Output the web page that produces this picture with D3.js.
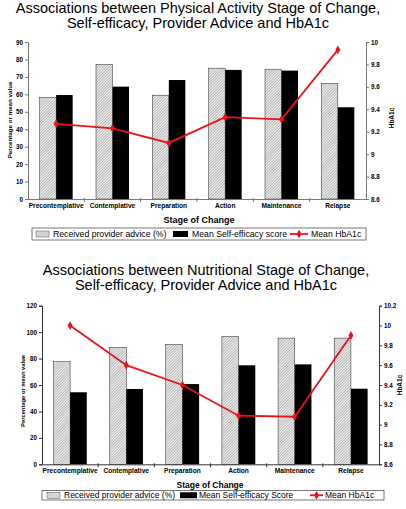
<!DOCTYPE html>
<html><head><meta charset="utf-8">
<script src="https://cdn.jsdelivr.net/npm/d3@7"></script>
<style>body{margin:0;background:#fff}svg{display:block;font-family:"Liberation Sans",Arial,sans-serif}</style>
</head><body>
<svg id="c" width="406" height="509"></svg>
<script>
const stages = ["Precontemplative","Contemplative","Preparation","Action","Maintenance","Relapse"];
// Chart 1: Physical activity
const pa_advice = [58.3, 77.2, 59.5, 75.0, 74.4, 66.3];
const pa_selfEff = [59.6, 64.4, 68.2, 74.0, 73.6, 52.6];
const pa_hba1c = [9.27, 9.23, 9.10, 9.33, 9.31, 9.93];
const pa_leftTicks = [0,10,20,30,40,50,60,70,80,90];
const pa_rightTicks = [8.6,8.8,9,9.2,9.4,9.6,9.8,10];
// Chart 2: Nutrition
const nu_advice = [77.6, 88.5, 90.8, 96.8, 95.5, 95.5];
const nu_selfEff = [54.5, 57.0, 60.7, 74.9, 75.6, 57.2];
const nu_hba1c = [10.0, 9.6, 9.4, 9.09, 9.08, 9.9];
const nu_leftTicks = [0,20,40,60,80,100,120];
const nu_rightTicks = [8.6,8.8,9,9.2,9.4,9.6,9.8,10,10.2];

const svg = d3.select("#c");
const defs = svg.append("defs");
const pat = defs.append("pattern").attr("id","hatch").attr("patternUnits","userSpaceOnUse")
  .attr("width",2).attr("height",2).attr("patternTransform","rotate(45)");
pat.append("rect").attr("width",2).attr("height",2).attr("fill","#f2f2f2");
pat.append("line").attr("x1",0).attr("y1",0).attr("x2",0).attr("y2",2).attr("stroke","#7a7a7a").attr("stroke-width",1);

function drawChart(cfg){
  const g = svg.append("g");
  cfg.title.forEach((t,i)=>{
    g.append("text").attr("x",cfg.titleX).attr("y",cfg.titleY+i*15).attr("text-anchor","middle")
      .attr("font-size",14.5).attr("fill","#000").text(t);
  });
  const x = d3.scaleBand().domain(stages).range([cfg.left,cfg.right]);
  const yL = d3.scaleLinear().domain(cfg.leftDomain).range([cfg.bottom,cfg.top]);
  const yR = d3.scaleLinear().domain(cfg.rightDomain).range([cfg.bottom,cfg.top]);
  const bw = cfg.barW;
  g.selectAll(".adv").data(cfg.advice).join("rect")
    .attr("x",(d,i)=>x(stages[i])+x.bandwidth()/2-bw)
    .attr("y",d=>yL(d)).attr("width",bw).attr("height",d=>yL(0)-yL(d))
    .attr("fill","url(#hatch)").attr("stroke","#222").attr("stroke-width",0.5);
  g.selectAll(".se").data(cfg.selfEff).join("rect")
    .attr("x",(d,i)=>x(stages[i])+x.bandwidth()/2)
    .attr("y",d=>yL(d)).attr("width",bw).attr("height",d=>yL(0)-yL(d))
    .attr("fill","#000");
  const axL = d3.axisLeft(yL).tickValues(cfg.leftTicks).tickSize(cfg.tickIn).tickPadding(2).tickFormat(d3.format("d"));
  const gl = g.append("g").attr("transform",`translate(${cfg.left},0)`).call(axL);
  const axR = d3.axisRight(yR).tickValues(cfg.rightTicks).tickSize(3).tickPadding(2).tickFormat(d=>String(+d.toFixed(1)));
  const gr = g.append("g").attr("transform",`translate(${cfg.right},0)`).call(axR);
  const axB = d3.axisBottom(x).tickSize(0).tickPadding(4);
  const gb = g.append("g").attr("transform",`translate(0,${cfg.bottom})`).call(axB);
  [gl,gr,gb].forEach(a=>{
    a.select(".domain").attr("stroke",cfg.axisColor).attr("stroke-width",1);
    a.selectAll(".tick line").attr("stroke",cfg.axisColor);
    a.selectAll("text").attr("font-family","Liberation Sans, Arial, sans-serif").attr("fill","#000");
  });
  gl.selectAll("text").attr("font-size",6.3).attr("font-weight","bold");
  gr.selectAll("text").attr("font-size",6.3).attr("font-weight","bold");
  gb.selectAll("text").attr("font-size",6.6).attr("font-weight","bold");
  g.selectAll(".sep").data(stages.slice(1)).join("line")
    .attr("x1",d=>x(d)).attr("x2",d=>x(d)).attr("y1",cfg.bottom-1).attr("y2",cfg.bottom+3)
    .attr("stroke",cfg.axisColor);
  const line = d3.line().x((d,i)=>x(stages[i])+x.bandwidth()/2).y(d=>yR(d));
  g.append("path").datum(cfg.hba1c).attr("d",line).attr("fill","none").attr("stroke","#e8141c").attr("stroke-width",1.8);
  g.selectAll(".mk").data(cfg.hba1c).join("path")
    .attr("d",d3.symbol(d3.symbolDiamond,22))
    .attr("transform",(d,i)=>`translate(${x(stages[i])+x.bandwidth()/2},${yR(d)})`)
    .attr("fill","#e8141c");
  g.append("text").attr("transform",`translate(${cfg.yLabX},${cfg.yLabY}) rotate(-90)`)
    .attr("text-anchor","middle").attr("font-size",cfg.yLabFs).attr("font-weight","bold").text("Percentage or mean value");
  g.append("text").attr("transform",`translate(${cfg.yRLabX},${cfg.yRLabY}) rotate(-90)`)
    .attr("text-anchor","middle").attr("font-size",6.5).attr("font-weight","bold").text("HbA1c");
  g.append("text").attr("x",cfg.xLabX).attr("y",cfg.xLabY).attr("text-anchor","middle")
    .attr("font-size",cfg.xLabFs).attr("font-weight","bold").text("Stage of Change");
  const L = cfg.legend;
  g.append("rect").attr("x",L.x0).attr("y",L.y).attr("width",L.x1-L.x0).attr("height",L.h)
    .attr("fill","#fff").attr("stroke","#555").attr("stroke-width",0.8);
  const my = L.y+L.h/2;
  g.append("rect").attr("x",L.sw1).attr("y",my-3).attr("width",L.sw1w).attr("height",6)
    .attr("fill","url(#hatch)").attr("stroke","#333").attr("stroke-width",0.4);
  g.append("text").attr("x",L.t1).attr("y",my+3.1).attr("font-size",L.fs).text(cfg.legendNames[0]);
  g.append("rect").attr("x",L.sw2).attr("y",my-3).attr("width",L.sw2w).attr("height",6).attr("fill","#000");
  g.append("text").attr("x",L.t2).attr("y",my+3.1).attr("font-size",L.fs).text(cfg.legendNames[1]);
  g.append("line").attr("x1",L.sw3).attr("x2",L.sw3+L.sw3w).attr("y1",my).attr("y2",my).attr("stroke","#e8141c").attr("stroke-width",1.8);
  g.append("path").attr("d",d3.symbol(d3.symbolDiamond,22)).attr("transform",`translate(${L.sw3+L.sw3w/2},${my})`).attr("fill","#e8141c");
  g.append("text").attr("x",L.t3).attr("y",my+3.1).attr("font-size",L.fs).text(cfg.legendNames[2]);
}

drawChart({
  title:["Associations between Physical Activity Stage of Change,","Self-efficacy, Provider Advice and HbA1c"],
  titleX:198, titleY:12.5,
  left:28, right:366, top:42, bottom:199, barW:16.5,
  leftDomain:[0,90], rightDomain:[8.6,10],
  leftTicks:pa_leftTicks, rightTicks:pa_rightTicks,
  advice:pa_advice, selfEff:pa_selfEff, hba1c:pa_hba1c,
  tickIn:3, axisColor:"#777",
  yLabX:12, yLabY:120, yLabFs:6.2, yRLabX:394, yRLabY:118,
  xLabX:199, xLabY:222.5, xLabFs:9,
  legendNames:["Received provider advice (%)","Mean Self-efficacy score","Mean HbA1c"],
  legend:{x0:32,x1:366,y:228,h:12,fs:8.7,sw1:36,sw1w:13,t1:53,sw2:173,sw2w:15,t2:192,sw3:290,sw3w:18,t3:311}
});
drawChart({
  title:["Associations between Nutritional Stage of Change,","Self-efficacy, Provider Advice and HbA1c"],
  titleX:206, titleY:275,
  left:42, right:379, top:305.7, bottom:464.3, barW:16.7,
  leftDomain:[0,120], rightDomain:[8.6,10.2],
  leftTicks:nu_leftTicks, rightTicks:nu_rightTicks,
  advice:nu_advice, selfEff:nu_selfEff, hba1c:nu_hba1c,
  tickIn:3, axisColor:"#333",
  yLabX:25, yLabY:391, yLabFs:5.8, yRLabX:402, yRLabY:385,
  xLabX:210, xLabY:488, xLabFs:8.5,
  legendNames:["Received provider advice (%)","Mean Self-efficacy Score","Mean HbA1c"],
  legend:{x0:42,x1:384,y:490.5,h:9.5,fs:8.5,sw1:47,sw1w:13,t1:64,sw2:180,sw2w:17,t2:199,sw3:310,sw3w:13,t3:325}
});
</script>
</body></html>
